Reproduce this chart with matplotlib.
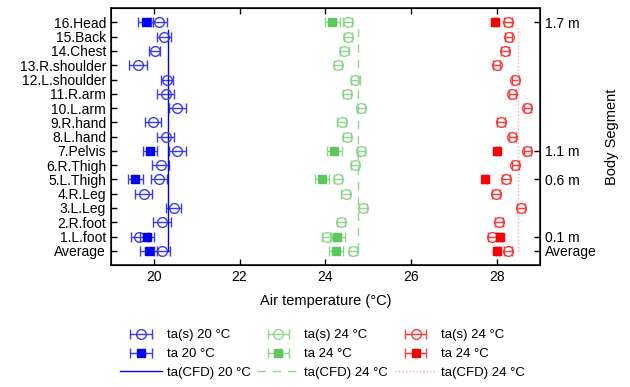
import matplotlib
matplotlib.use("Agg")
import matplotlib.pyplot as plt
from matplotlib.legend_handler import HandlerErrorbar
import numpy as np

plt.rcParams['font.family'] = ['Liberation Sans', 'DejaVu Sans']

segments = ["Average", "1.L.foot", "2.R.foot", "3.L.Leg", "4.R.Leg", "5.L.Thigh",
            "6.R.Thigh", "7.Pelvis", "8.L.hand", "9.R.hand", "10.L.arm", "11.R.arm",
            "12.L.shoulder", "13.R.shoulder", "14.Chest", "15.Back", "16.Head"]

# ta(s) series (circles), index order as segments
tas20 = [20.19, 19.66, 20.19, 20.46, 19.77, 20.12, 20.16, 20.55, 20.28, 19.98, 20.55,
         20.28, 20.31, 19.63, 20.02, 20.24, 20.12]
tas20_err = [0.19, 0.20, 0.20, 0.17, 0.20, 0.18, 0.20, 0.20, 0.20, 0.19, 0.20,
             0.20, 0.14, 0.21, 0.12, 0.16, 0.19]
tas24g = [24.64, 24.03, 24.36, 24.88, 24.47, 24.29, 24.69, 24.83, 24.50, 24.38, 24.83,
          24.50, 24.70, 24.29, 24.44, 24.53, 24.52]
tas24g_err = [0.10] * 17
tas24r = [28.26, 27.88, 28.05, 28.56, 27.97, 28.21, 28.43, 28.71, 28.36, 28.10, 28.71,
          28.36, 28.43, 27.99, 28.19, 28.27, 28.26]
tas24r_err = [0.09] * 17

# ta series (squares) at measured heights
ta_pos = [0, 1, 5, 7, 16]
ta20 = [19.88, 19.84, 19.57, 19.91, 19.81]
ta20_err = [0.19, 0.17, 0.17, 0.16, 0.17]
ta24g = [24.25, 24.28, 23.92, 24.21, 24.16]
ta24g_err = [0.17, 0.18, 0.17, 0.17, 0.17]
ta24r = [28.01, 28.07, 27.72, 28.01, 27.96]
ta24r_err = [0.04, 0.04, 0.04, 0.04, 0.04]

# CFD values (vertical lines)
cfd20 = 20.32
cfd24g = 24.77
cfd24r = 28.49
cfd_span = [0, 15.5]

height_pos = [16, 7, 5, 1, 0]
height_labels = ["1.7 m", "1.1 m", "0.6 m", "0.1 m", "Average"]

xticks = [20, 22, 24, 26, 28]

blue = '#0000ff'
blue_l = '#3a3aff'
green = '#5cc85c'
green_l = '#8ed88e'
red = '#ff0000'
red_l = '#ff3a3a'

fig = plt.figure(figsize=(6.3, 3.87), dpi=100)
ax = fig.add_axes([0.176, 0.315, 0.681, 0.664])

y = np.arange(len(segments))

ms_c = 7
ms_s = 6
cap = 3.5

h1 = ax.errorbar(tas20, y, xerr=tas20_err, fmt='o', mfc='none', mec=blue_l, ms=ms_c,
                 ecolor=blue_l, elinewidth=1, capsize=cap, mew=1, label='ta(s) 20 °C')
h2 = ax.errorbar(ta20, ta_pos, xerr=ta20_err, fmt='s', mfc=blue, mec=blue, ms=ms_s,
                 ecolor=blue_l, elinewidth=1, capsize=cap, label='ta 20 °C')
l1, = ax.plot([cfd20, cfd20], cfd_span, color=blue, lw=1, label='ta(CFD) 20 °C')

h3 = ax.errorbar(tas24g, y, xerr=tas24g_err, fmt='o', mfc='none', mec=green_l, ms=ms_c,
                 ecolor=green_l, elinewidth=1, capsize=cap, mew=1, label='ta(s) 24 °C')
h4 = ax.errorbar(ta24g, ta_pos, xerr=ta24g_err, fmt='s', mfc=green, mec=green, ms=ms_s,
                 ecolor=green_l, elinewidth=1, capsize=cap, label='ta 24 °C')
l2, = ax.plot([cfd24g, cfd24g], [0, 15.65], color=green_l, lw=1, ls=(0, (6, 5)),
              label='ta(CFD) 24 °C')

h5 = ax.errorbar(tas24r, y, xerr=tas24r_err, fmt='o', mfc='none', mec=red_l, ms=ms_c,
                 ecolor=red_l, elinewidth=1, capsize=cap, mew=1, label='ta(s) 24 °C')
h6 = ax.errorbar(ta24r, ta_pos, xerr=ta24r_err, fmt='s', mfc=red, mec=red, ms=ms_s,
                 ecolor=red_l, elinewidth=1, capsize=cap, label='ta 24 °C')
l3, = ax.plot([cfd24r, cfd24r], [0, 15.85], color='#ffaaaa', lw=1, ls=(0, (1, 1.5)),
              label='ta(CFD) 24 °C')

ax.set_xlim(19, 29)
ax.set_ylim(-1, 17)
ax.set_xticks(xticks)
ax.set_yticks(y)
ax.set_yticklabels(segments)
ax.tick_params(direction='in', length=4, labelsize=10, top=True, width=1)
ax.set_xlabel('Air temperature (°C)', fontsize=10.5, labelpad=7)
for s in ax.spines.values():
    s.set_linewidth(1.1)

ax2 = ax.twinx()
ax2.set_ylim(-1, 17)
ax2.set_yticks(height_pos)
ax2.set_yticklabels(height_labels)
ax2.tick_params(direction='in', length=4, labelsize=10, width=1)
ax2.set_ylabel('Body Segment', fontsize=10.5, labelpad=6)

handles = [h1, h2, l1, h3, h4, l2, h5, h6, l3]
labels = [h.get_label() for h in handles]
hm = {type(h1): HandlerErrorbar(xerr_size=0.8)}
leg = fig.legend(handles, labels, ncol=3, loc='center', bbox_to_anchor=(0.512, 0.085),
                 frameon=False, fontsize=9.5, handlelength=3.2, handletextpad=0.35,
                 columnspacing=0.5, labelspacing=0.5, handler_map=hm)

fig.savefig('out.png', dpi=100)
